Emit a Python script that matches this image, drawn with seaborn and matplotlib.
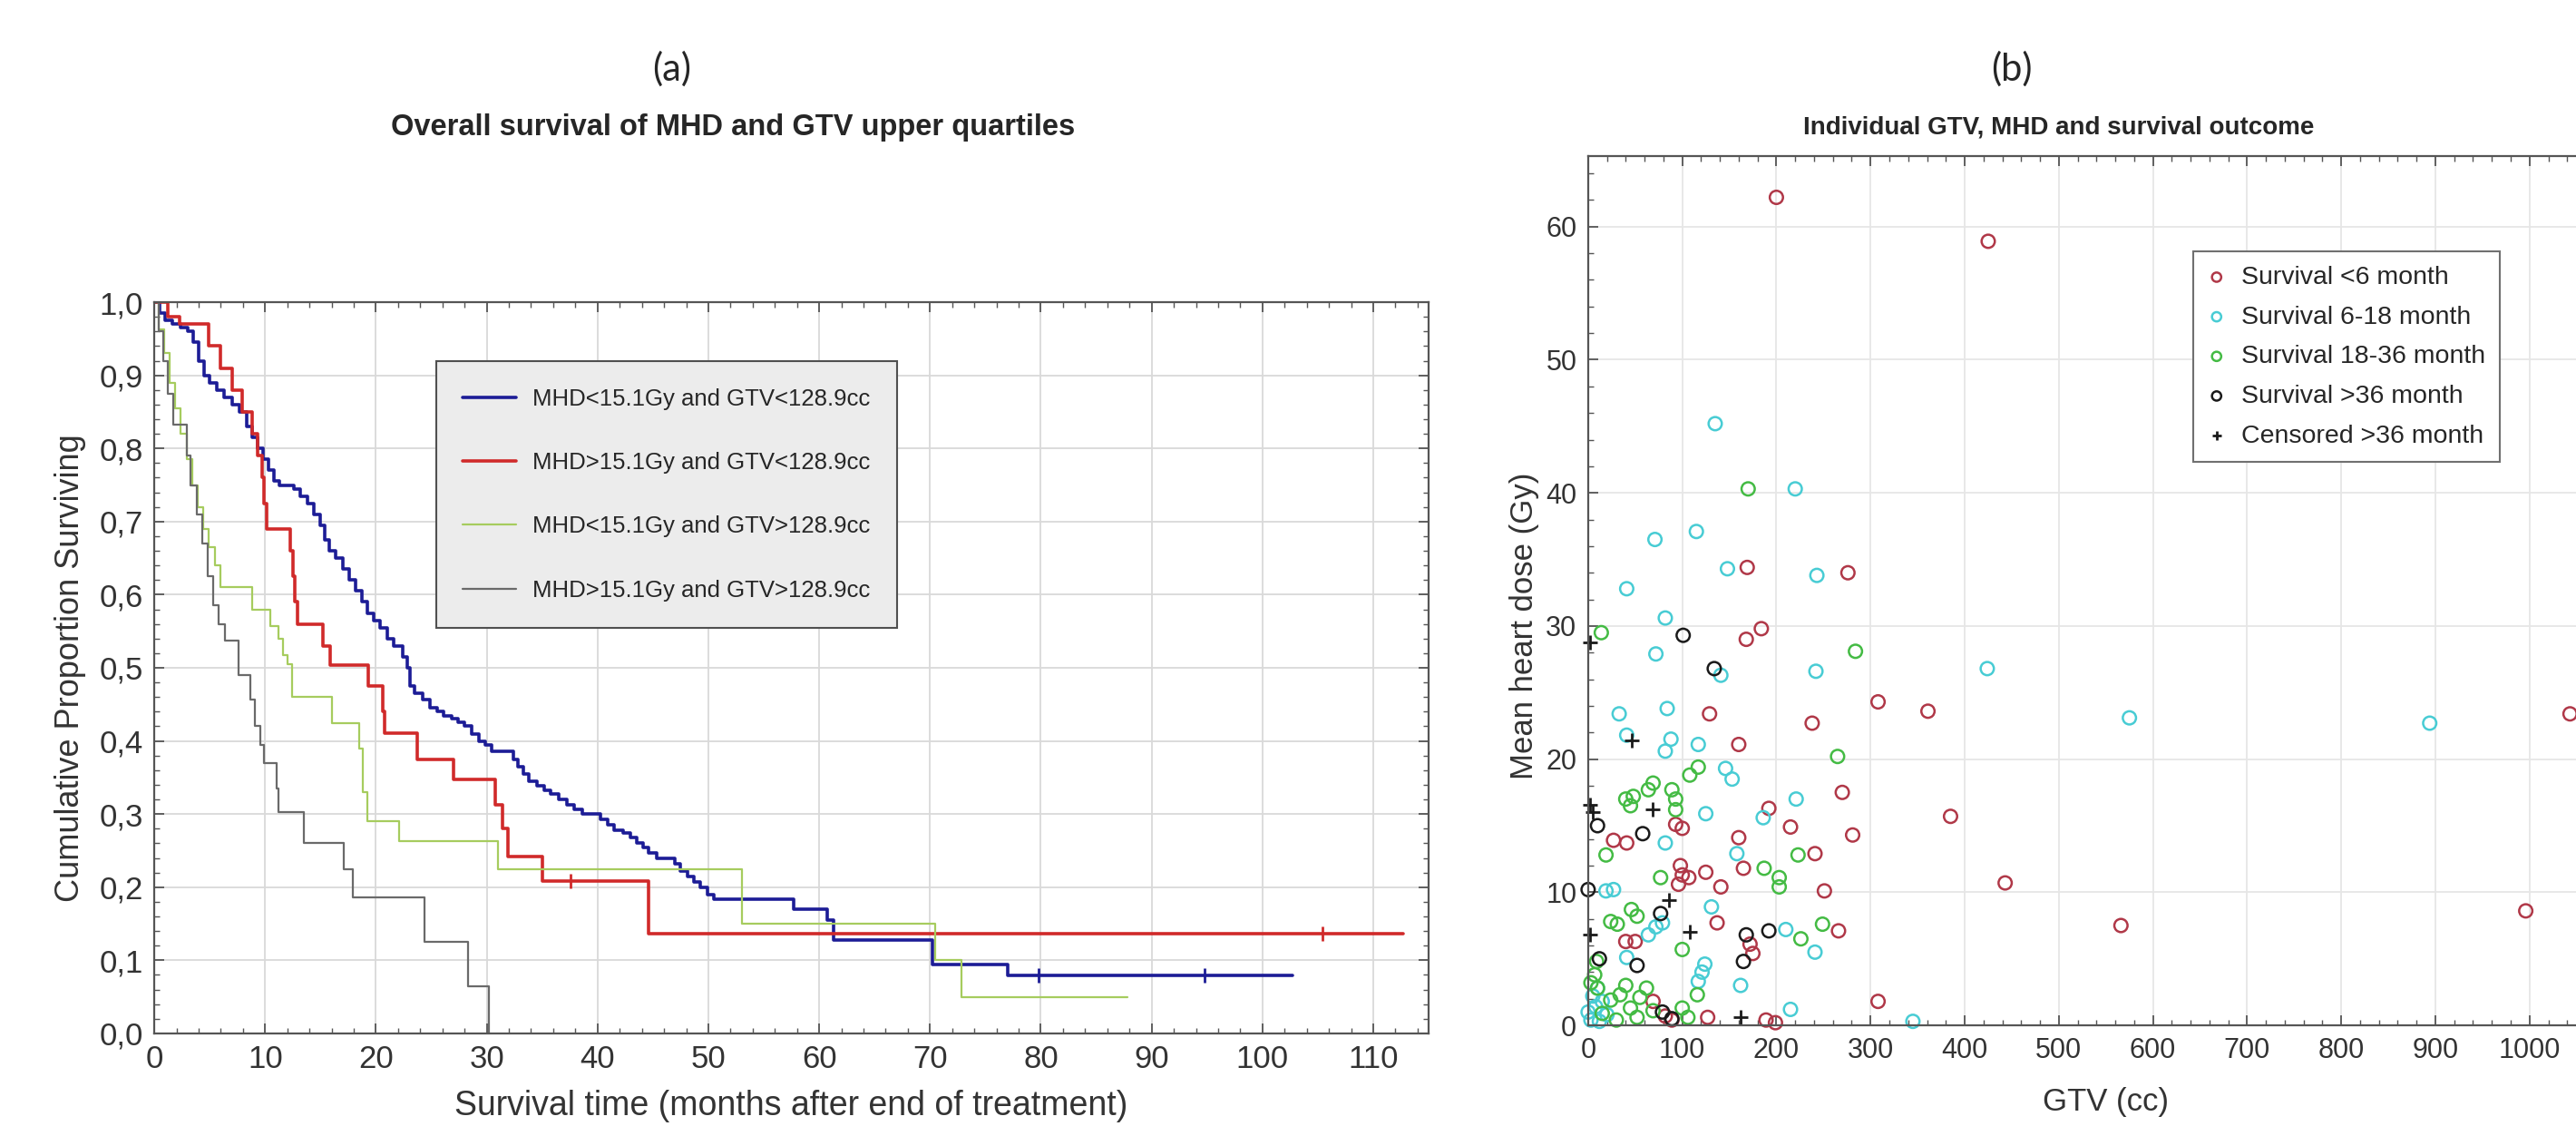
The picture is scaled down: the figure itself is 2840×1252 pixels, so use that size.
import matplotlib
matplotlib.use("Agg")
import matplotlib.pyplot as plt
from matplotlib.ticker import MultipleLocator, FuncFormatter
import seaborn as sns
import pandas as pd

# (a) Kaplan-Meier steps: (month, proportion surviving)
km_lowmhd_lowgtv = [(0, 1.0), (0.5, 0.985), (1.0, 0.975), (1.6, 0.97), (2.4, 0.965), (3.0, 0.96),
                    (3.5, 0.945), (4.0, 0.92), (4.5, 0.90), (5.0, 0.89), (5.6, 0.88), (6.3, 0.87),
                    (7.0, 0.86), (7.7, 0.85), (8.3, 0.83), (8.8, 0.815), (9.3, 0.80), (9.8, 0.785),
                    (10.3, 0.77), (10.8, 0.755), (11.3, 0.75), (12.6, 0.745), (13.2, 0.735),
                    (13.8, 0.725), (14.4, 0.71), (15.0, 0.695), (15.4, 0.675), (15.8, 0.66),
                    (16.4, 0.65), (17.0, 0.635), (17.6, 0.62), (18.2, 0.605), (18.7, 0.59),
                    (19.2, 0.575), (19.8, 0.565), (20.4, 0.555), (21.0, 0.54), (21.6, 0.53),
                    (22.4, 0.515), (22.8, 0.50), (23.1, 0.475), (23.5, 0.465), (24.2, 0.457),
                    (24.9, 0.445), (25.5, 0.44), (26.1, 0.434), (26.8, 0.43), (27.4, 0.425),
                    (28.0, 0.42), (28.6, 0.41), (29.3, 0.40), (29.9, 0.395), (30.4, 0.386),
                    (32.4, 0.375), (32.8, 0.365), (33.3, 0.355), (33.8, 0.345), (34.5, 0.339),
                    (35.2, 0.333), (35.8, 0.327), (36.5, 0.32), (37.2, 0.313), (37.9, 0.307),
                    (38.6, 0.30), (40.3, 0.293), (40.9, 0.285), (41.5, 0.278), (42.3, 0.274),
                    (43.0, 0.268), (43.5, 0.26), (44.1, 0.254), (44.6, 0.247), (45.3, 0.24),
                    (47.0, 0.232), (47.5, 0.222), (48.1, 0.215), (48.7, 0.207), (49.3, 0.20),
                    (49.9, 0.19), (50.5, 0.183), (57.7, 0.17), (60.7, 0.155), (61.3, 0.128),
                    (70.2, 0.094), (77.0, 0.079), (102.7, 0.079)]
km_highmhd_lowgtv = [(0, 1.0), (1.2, 0.98), (2.3, 0.97), (4.9, 0.94), (6.0, 0.91), (7.0, 0.88),
                     (7.9, 0.85), (8.8, 0.82), (9.3, 0.79), (9.7, 0.76), (9.9, 0.725), (10.1, 0.69),
                     (12.3, 0.66), (12.5, 0.625), (12.7, 0.59), (12.9, 0.56), (15.2, 0.53),
                     (15.9, 0.504), (19.3, 0.475), (20.6, 0.44), (20.8, 0.411), (23.7, 0.375),
                     (27.0, 0.347), (30.8, 0.313), (31.4, 0.28), (31.9, 0.242), (35.0, 0.208),
                     (44.6, 0.137), (112.7, 0.137)]
km_lowmhd_highgtv = [(0, 1.0), (0.4, 0.963), (0.9, 0.93), (1.4, 0.89), (1.9, 0.855), (2.4, 0.82),
                     (2.9, 0.785), (3.4, 0.75), (3.9, 0.72), (4.4, 0.69), (4.9, 0.665), (5.5, 0.64),
                     (6.0, 0.61), (8.8, 0.58), (10.5, 0.557), (11.2, 0.54), (11.6, 0.517),
                     (12.0, 0.505), (12.4, 0.46), (16.0, 0.424), (18.5, 0.39), (18.8, 0.33),
                     (19.2, 0.29), (22.1, 0.263), (31.0, 0.225), (53.0, 0.15), (70.5, 0.10),
                     (72.8, 0.05), (87.8, 0.05)]
km_highmhd_highgtv = [(0, 1.0), (0.4, 0.96), (0.8, 0.92), (1.2, 0.875), (1.7, 0.833), (2.9, 0.79),
                      (3.3, 0.75), (3.8, 0.71), (4.3, 0.67), (4.8, 0.625), (5.3, 0.585), (5.8, 0.56),
                      (6.4, 0.537), (7.6, 0.49), (8.7, 0.457), (9.1, 0.42), (9.6, 0.395), (9.9, 0.37),
                      (11.0, 0.335), (11.2, 0.303), (13.5, 0.26), (17.1, 0.225), (17.9, 0.186),
                      (24.4, 0.125), (28.3, 0.064), (30.2, 0.0)]

km_labels = ["MHD<15.1Gy and GTV<128.9cc", "MHD>15.1Gy and GTV<128.9cc",
             "MHD<15.1Gy and GTV>128.9cc", "MHD>15.1Gy and GTV>128.9cc"]
km_curves = [km_lowmhd_lowgtv, km_highmhd_lowgtv, km_lowmhd_highgtv, km_highmhd_highgtv]
km_colors = ["#1c1c96", "#d02a2a", "#a6cc5e", "#6a6a6a"]
km_widths = [2.6, 2.6, 1.6, 1.6]

# censoring ticks (month, level)
censor_blue = [(79.8, 0.079), (94.8, 0.079)]
censor_red = [(37.6, 0.208), (105.4, 0.137)]

# (b) individual patients: (GTV cc, mean heart dose Gy)
surv_lt6 = [(200, 62.2), (425, 58.9), (169, 34.4), (276, 34.0), (168, 29.0), (184, 29.8),
            (129, 23.4), (160, 21.1), (308, 24.3), (361, 23.6), (238, 22.7), (270, 17.5),
            (192, 16.3), (215, 14.9), (93, 15.1), (100, 14.8), (27, 13.9), (41, 13.7),
            (160, 14.1), (281, 14.3), (385, 15.7), (165, 11.8), (98, 12.0), (100, 11.3),
            (107, 11.1), (96, 10.6), (125, 11.5), (141, 10.4), (241, 12.9), (251, 10.1),
            (443, 10.7), (137, 7.7), (266, 7.1), (40, 6.3), (50, 6.3), (172, 6.1), (175, 5.4),
            (566, 7.5), (996, 8.6), (1043, 23.4), (308, 1.8), (69, 1.8), (82, 0.7), (89, 0.4),
            (127, 0.6), (189, 0.4), (199, 0.2)]
surv_6_18 = [(135, 45.2), (220, 40.3), (115, 37.1), (71, 36.5), (148, 34.3), (243, 33.8),
             (41, 32.8), (82, 30.6), (72, 27.9), (141, 26.3), (242, 26.6), (424, 26.8),
             (575, 23.1), (894, 22.7), (33, 23.4), (84, 23.8), (41, 21.8), (82, 20.6), (88, 21.5),
             (117, 21.1), (146, 19.3), (153, 18.5), (221, 17.0), (125, 15.9), (186, 15.6),
             (82, 13.7), (158, 12.9), (19, 10.1), (27, 10.2), (131, 8.9), (64, 6.8), (72, 7.4),
             (79, 7.7), (210, 7.2), (241, 5.5), (41, 5.1), (117, 3.3), (121, 4.0), (124, 4.6),
             (162, 3.0), (215, 1.2), (345, 0.3), (0, 1.0), (3, 0.4), (8, 1.4), (12, 0.3),
             (5, 2.2), (15, 1.8), (20, 0.8), (10, 2.8)]
surv_18_36 = [(170, 40.3), (14, 29.5), (284, 28.1), (265, 20.2), (117, 19.4), (108, 18.8),
              (69, 18.2), (64, 17.7), (40, 17.0), (48, 17.2), (45, 16.5), (89, 17.7), (93, 17.0),
              (93, 16.2), (19, 12.8), (187, 11.8), (203, 11.1), (203, 10.4), (223, 12.8),
              (77, 11.1), (46, 8.7), (52, 8.2), (24, 7.8), (31, 7.6), (249, 7.6), (226, 6.5),
              (100, 5.7), (9, 4.8), (7, 3.8), (10, 2.8), (3, 3.2), (24, 1.9), (34, 2.3), (40, 3.0),
              (45, 1.3), (55, 2.1), (62, 2.8), (69, 1.1), (52, 0.6), (100, 1.3), (106, 0.6),
              (116, 2.3), (30, 0.4), (15, 0.9)]
surv_gt36 = [(101, 29.3), (134, 26.8), (10, 15.0), (58, 14.4), (0, 10.2), (77, 8.4), (168, 6.8),
             (192, 7.1), (165, 4.8), (52, 4.5), (12, 5.0), (79, 1.0), (89, 0.5)]
censored_gt36 = [(2, 28.8), (46, 21.4), (2, 16.6), (5, 16.0), (69, 16.2), (86, 9.4), (2, 6.8),
                 (108, 7.0), (162, 0.6)]

scatter_groups = [surv_lt6, surv_6_18, surv_18_36, surv_gt36, censored_gt36]
scatter_labels = ["Survival <6 month", "Survival 6-18 month", "Survival 18-36 month",
                  "Survival >36 month", "Censored >36 month"]
scatter_colors = ["#b03848", "#48ccd4", "#44bb44", "#1a1a1a", "#1a1a1a"]
scatter_markers = ["o", "o", "o", "o", "+"]

sns.set_theme(style="whitegrid")
plt.rcParams["font.family"] = ["Liberation Sans", "DejaVu Sans"]
plt.rcParams["axes.unicode_minus"] = False

fig = plt.figure(figsize=(28.4, 12.52), dpi=100)
ax1 = fig.add_axes([0.0599, 0.0903, 0.4947, 0.6437])
ax2 = fig.add_axes([0.6165, 0.0974, 0.402, 0.7652])

# --- panel (a) ---
for steps, lab, col, lw in zip(km_curves, km_labels, km_colors, km_widths):
    df = pd.DataFrame(steps, columns=["month", "surv"])
    sns.lineplot(data=df, x="month", y="surv", ax=ax1, drawstyle="steps-post", color=col,
                 lw=lw, label=lab, estimator=None, sort=False)

for pts, col in [(censor_blue, km_colors[0]), (censor_red, km_colors[1])]:
    df = pd.DataFrame(pts, columns=["month", "surv"])
    sns.scatterplot(data=df, x="month", y="surv", ax=ax1, marker="|", s=120, color=col,
                    edgecolor=col, linewidth=2, legend=False)

ax1.set_xlim(0, 115)
ax1.set_ylim(0, 1.0)
ax1.xaxis.set_major_locator(MultipleLocator(10))
ax1.xaxis.set_minor_locator(MultipleLocator(2))
ax1.yaxis.set_major_locator(MultipleLocator(0.1))
ax1.yaxis.set_minor_locator(MultipleLocator(0.02))
ax1.yaxis.set_major_formatter(FuncFormatter(lambda v, p: f"{v:.1f}".replace(".", ",")))
ax1.set_xlabel("Survival time (months after end of treatment)", fontsize=27, color="#333333", labelpad=12)
ax1.set_ylabel("Cumulative Proportion Surviving", fontsize=26, color="#333333", labelpad=10)

leg1 = ax1.legend(loc="upper left", bbox_to_anchor=(0.212, 0.935), fontsize=18.5, frameon=True,
                  fancybox=False, facecolor="#ececec", edgecolor="#505050", framealpha=1,
                  handlelength=2.3, labelspacing=1.8, borderpad=1.15, handletextpad=0.7)
leg1.get_frame().set_linewidth(1.5)

# --- panel (b) ---
for pts, lab, col, mk in zip(scatter_groups, scatter_labels, scatter_colors, scatter_markers):
    df = pd.DataFrame(pts, columns=["gtv", "mhd"])
    if mk == "o":
        sns.scatterplot(data=df, x="gtv", y="mhd", ax=ax2, marker="o", s=110, color=col,
                        facecolor="none", edgecolor=col, linewidth=1.8, label=lab, clip_on=False)
    else:
        sns.scatterplot(data=df, x="gtv", y="mhd", ax=ax2, marker="+", s=120, color=col,
                        edgecolor=col, linewidth=2, label=lab, clip_on=False)

ax2.set_xlim(0, 1100)
ax2.set_ylim(0, 65.3)
ax2.xaxis.set_major_locator(MultipleLocator(100))
ax2.xaxis.set_minor_locator(MultipleLocator(20))
ax2.yaxis.set_major_locator(MultipleLocator(10))
ax2.yaxis.set_minor_locator(MultipleLocator(2))
ax2.set_xlabel("GTV (cc)", fontsize=25, color="#333333", labelpad=18)
ax2.set_ylabel("Mean heart dose (Gy)", fontsize=25, color="#333333")
ax2.yaxis.set_label_coords(-0.047, 0.46)

leg2 = ax2.legend(loc="upper left", bbox_to_anchor=(0.572, 0.905), fontsize=20.5, frameon=True,
                  fancybox=False, facecolor="white", edgecolor="#707070", framealpha=1,
                  handlelength=0.7, labelspacing=0.62, borderpad=0.55, handletextpad=0.6,
                  markerscale=0.7)
leg2.get_frame().set_linewidth(1.5)

for ax, gc, ls in [(ax1, "#d9d9d9", 25), (ax2, "#e6e6e6", 22)]:
    ax.grid(True, which="major", color=gc, linewidth=1.3)
    ax.grid(False, which="minor")
    for sp in ax.spines.values():
        sp.set_color("#555555")
        sp.set_linewidth(1.6)
    ax.tick_params(which="both", direction="in", bottom=True, left=True, top=True, right=True,
                   colors="#555555", labelcolor="#333333")
    ax.tick_params(which="major", length=8, width=1.3, labelsize=ls, pad=9)
    ax.tick_params(which="minor", length=4, width=1.0)

# panel letters and titles
fig.text(741 / 2840, 1 - 76 / 1252, "(a)", ha="center", va="center", fontsize=30,
         family=["Lato", "DejaVu Sans"])
fig.text(2218 / 2840, 1 - 76 / 1252, "(b)", ha="center", va="center", fontsize=30,
         family=["Lato", "DejaVu Sans"])
fig.text(808 / 2840, 1 - 141 / 1252, "Overall survival of MHD and GTV upper quartiles",
         ha="center", va="center", fontsize=23.5, fontweight="bold")
fig.text(2270 / 2840, 1 - 141 / 1252, "Individual GTV, MHD and survival outcome",
         ha="center", va="center", fontsize=20, fontweight="bold")

fig.savefig("out.png", dpi=100)
